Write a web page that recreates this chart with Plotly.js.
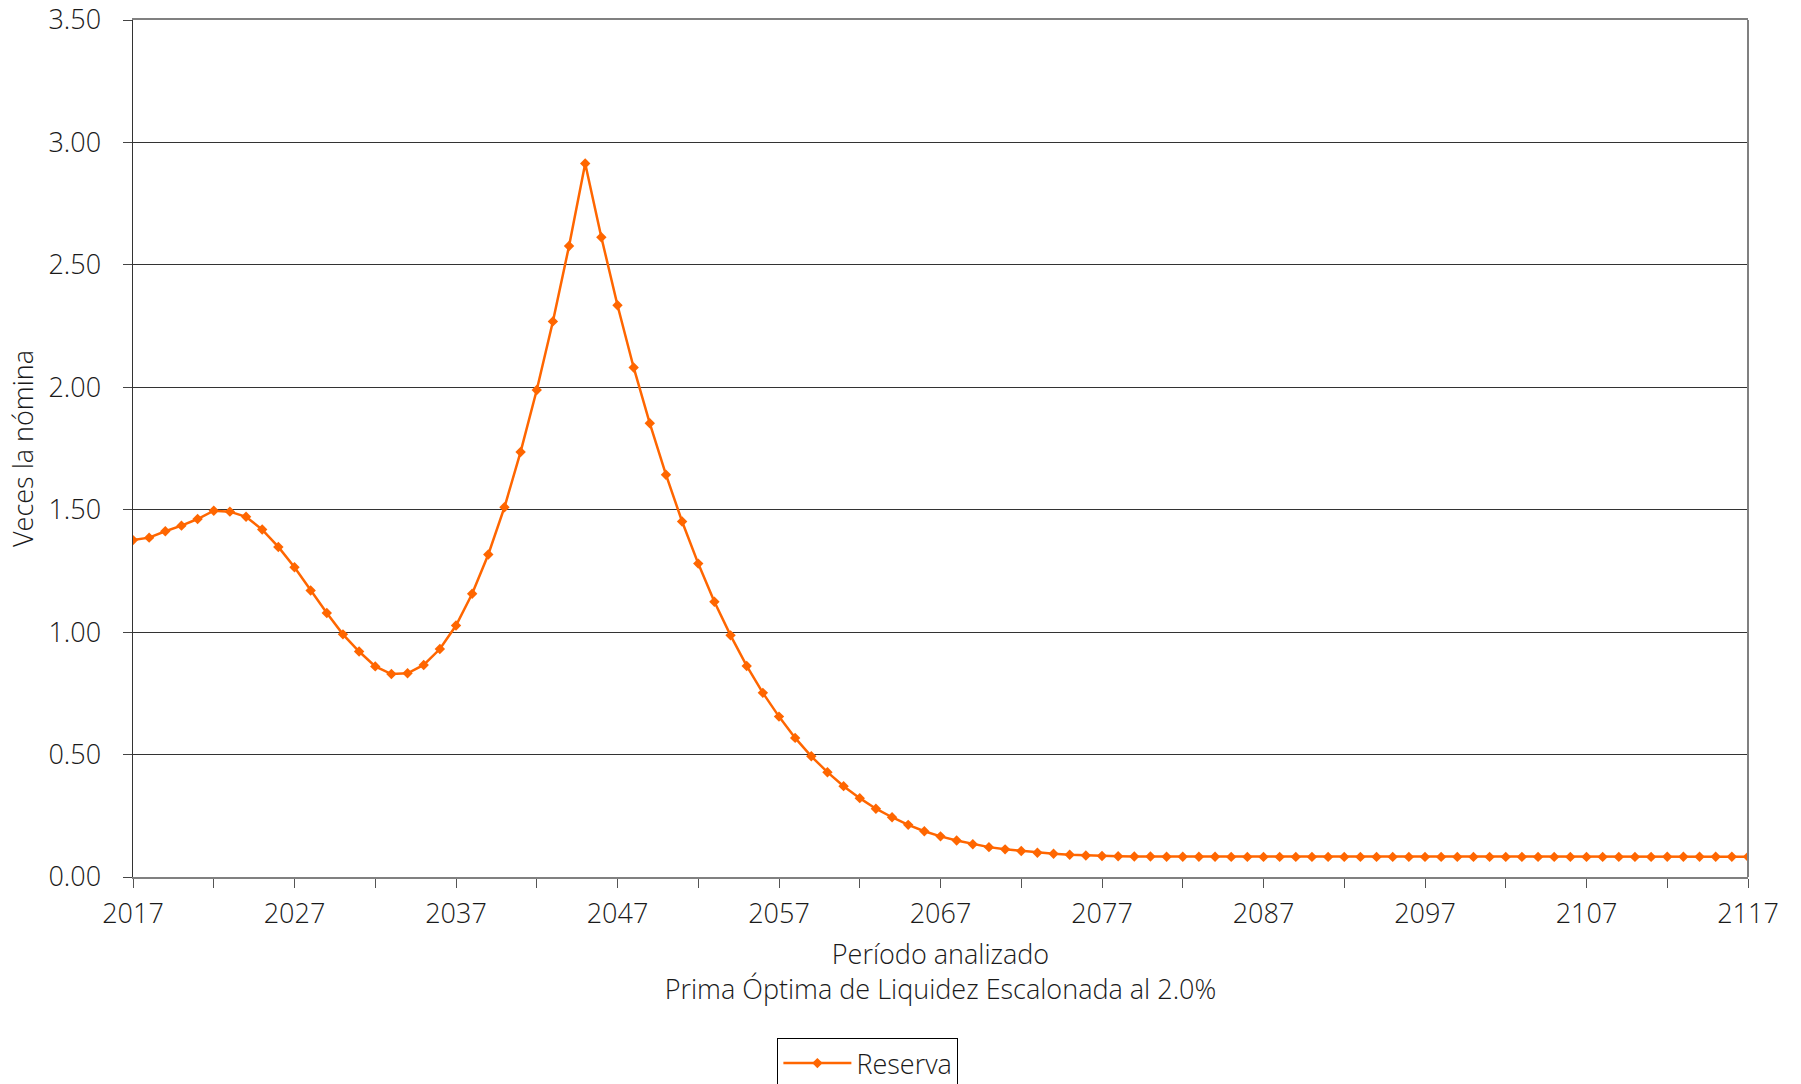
<!DOCTYPE html>
<html>
<head>
<meta charset="utf-8">
<script src="https://cdn.plot.ly/plotly-3.0.1.min.js"></script>
<style>
html,body{margin:0;padding:0;background:#fff;}
#chart{width:1801px;height:1084px;}
</style>
</head>
<body>
<div id="chart"></div>
<script>
const years = [
  2017,2018,2019,2020,2021,2022,2023,2024,2025,2026,
  2027,2028,2029,2030,2031,2032,2033,2034,2035,2036,
  2037,2038,2039,2040,2041,2042,2043,2044,2045,2046,
  2047,2048,2049,2050,2051,2052,2053,2054,2055,2056,
  2057,2058,2059,2060,2061,2062,2063,2064,2065,2066,
  2067,2068,2069,2070,2071,2072,2073,2074,2075,2076,
  2077,2078,2079,2080,2081,2082,2083,2084,2085,2086,
  2087,2088,2089,2090,2091,2092,2093,2094,2095,2096,
  2097,2098,2099,2100,2101,2102,2103,2104,2105,2106,
  2107,2108,2109,2110,2111,2112,2113,2114,2115,2116,
  2117
];
const reserva = [
  1.376,1.386,1.412,1.435,1.462,1.496,1.492,1.471,1.419,1.348,
  1.265,1.170,1.078,0.991,0.921,0.860,0.829,0.832,0.866,0.931,
  1.027,1.157,1.317,1.510,1.736,1.989,2.269,2.577,2.914,2.613,
  2.335,2.081,1.853,1.643,1.452,1.280,1.124,0.987,0.862,0.752,
  0.655,0.568,0.493,0.428,0.371,0.322,0.279,0.244,0.213,0.187,
  0.166,0.149,0.134,0.122,0.113,0.106,0.099,0.095,0.091,0.088,
  0.086,0.085,0.084,0.084,0.083,0.083,0.083,0.083,0.082,0.082,
  0.082,0.082,0.082,0.082,0.082,0.082,0.082,0.082,0.082,0.082,
  0.082,0.082,0.082,0.082,0.082,0.082,0.082,0.082,0.082,0.082,
  0.082,0.082,0.082,0.082,0.082,0.083,0.083,0.083,0.083,0.083,
  0.083
];
const seriesName = "Reserva";
const xTitle = "Período analizado<br>Prima Óptima de Liquidez Escalonada al 2.0%";
const yTitle = "Veces la nómina";

const FONT = "Open Sans, Liberation Sans, Arial, sans-serif";
const TXT = "#1a1a1a";
const FS = 27;

const trace = {
  x: years, y: reserva, name: seriesName,
  type: "scatter", mode: "lines+markers",
  line: {color: "#FF6600", width: 2.5},
  marker: {symbol: "diamond", size: 8, color: "#FF6600"}
};

const layout = {
  width: 1801, height: 1084,
  margin: {l: 133, r: 53, t: 20, b: 207, pad: 0},
  paper_bgcolor: "#fff", plot_bgcolor: "#fff",
  font: {family: FONT, size: FS, color: TXT, weight: 300},
  showlegend: true,
  legend: {
    x: 0.399, xanchor: "left", xref: "paper",
    y: 0.0424, yanchor: "top", yref: "container",
    bordercolor: "#000", borderwidth: 1, bgcolor: "#fff",
    itemwidth: 68,
    font: {family: FONT, size: FS, color: TXT, weight: 300}
  },
  xaxis: {
    range: [2017, 2117], tick0: 2017, dtick: 10,
    ticks: "outside", ticklen: 9, tickwidth: 1, tickcolor: "#555",
    ticklabelstandoff: 3,
    minor: {ticks: "outside", dtick: 5, tick0: 2017, ticklen: 9, tickwidth: 1, tickcolor: "#555", showgrid: false},
    showgrid: false, zeroline: false,
    showline: true, linecolor: "#808080", linewidth: 2, mirror: true,
    tickfont: {family: FONT, size: FS, color: TXT, weight: 300},
    title: {text: xTitle, standoff: 15, font: {family: FONT, size: FS, color: TXT, weight: 300}},
    automargin: false
  },
  yaxis: {
    range: [0, 3.5], dtick: 0.5, tick0: 0, tickformat: ".2f",
    ticks: "outside", ticklen: 9, tickwidth: 1, tickcolor: "#444",
    ticklabelstandoff: 16,
    showgrid: true, gridcolor: "#333", gridwidth: 1,
    zeroline: false,
    showline: true, linecolor: "#333", linewidth: 1.5,
    tickfont: {family: FONT, size: FS, color: TXT, weight: 300},
    title: {text: yTitle, standoff: 7, font: {family: FONT, size: FS, color: TXT, weight: 300}},
    automargin: false
  },
  shapes: [
    {type: "line", xref: "paper", yref: "paper", x0: 1, x1: 1, y0: 0, y1: 1,
     line: {color: "#808080", width: 2}}
  ]
};

Plotly.newPlot("chart", [trace], layout, {staticPlot: true, displayModeBar: false});
</script>
</body>
</html>
